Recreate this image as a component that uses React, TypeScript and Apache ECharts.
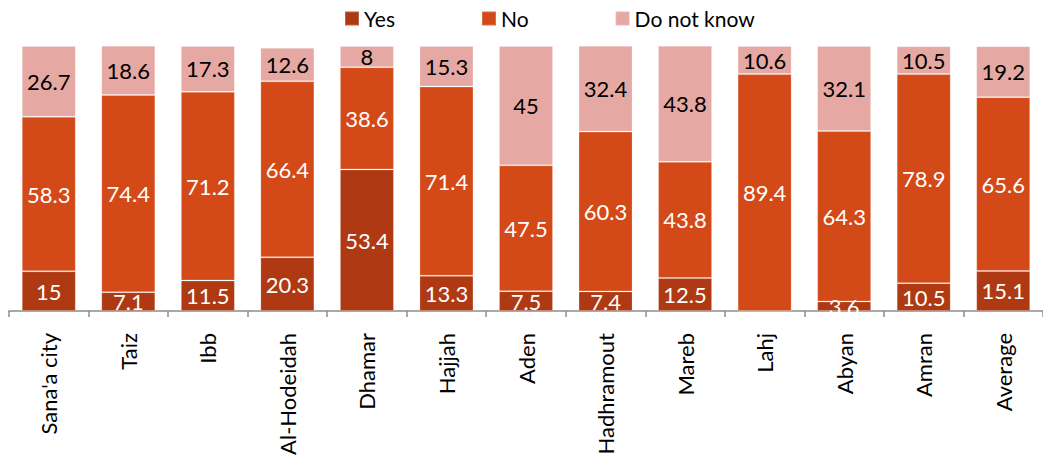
import React, { useEffect, useRef } from "react";
import * as echarts from "echarts";

const categories = [
  "Sana'a city", "Taiz", "Ibb", "Al-Hodeidah", "Dhamar", "Hajjah", "Aden",
  "Hadhramout", "Mareb", "Lahj", "Abyan", "Amran", "Average",
];
const yesValues = [15, 7.1, 11.5, 20.3, 53.4, 13.3, 7.5, 7.4, 12.5, 0, 3.6, 10.5, 15.1];
const noValues = [58.3, 74.4, 71.2, 66.4, 38.6, 71.4, 47.5, 60.3, 43.8, 89.4, 64.3, 78.9, 65.6];
const dkValues = [26.7, 18.6, 17.3, 12.6, 8, 15.3, 45, 32.4, 43.8, 10.6, 32.1, 10.5, 19.2];

const FONT = "Lato";

export default function App() {
  const ref = useRef<HTMLDivElement>(null);
  useEffect(() => {
    if (!ref.current) return;
    const chart = echarts.init(ref.current, null, { renderer: "svg" });
    const mk = (name: string, data: number[], color: string, labelColor: string) => ({
      name,
      type: "bar",
      stack: "total",
      data,
      barWidth: 54,
      itemStyle: { color, borderColor: "rgba(255,255,255,0.2)", borderWidth: 1 },
      label: {
        show: true,
        position: "inside",
        color: labelColor,
        fontFamily: FONT,
        fontSize: 22,
        formatter: (p: any) => (p.value === 0 ? "" : String(p.value)),
      },
    });
    chart.setOption({
      animation: false,
      legend: {
        top: 3,
        left: 339,
        itemWidth: 14,
        itemHeight: 14,
        itemGap: 86,
        icon: "rect",
        textStyle: { fontFamily: FONT, fontSize: 21, color: "#000" },
        data: ["Yes", "No", "Do not know"],
      },
      grid: { left: 9, top: 46, width: 1040, height: 265, containLabel: false },
      xAxis: {
        type: "category",
        data: categories,
        axisLine: { lineStyle: { color: "#8c8c8c", width: 1.5 } },
        axisTick: { show: true, length: 6, lineStyle: { color: "#8c8c8c", width: 1.5 } },
        axisLabel: {
          rotate: 90,
          margin: 22,
          color: "#000",
          fontFamily: FONT,
          fontSize: 22,
          interval: 0,
        },
      },
      yAxis: {
        type: "value",
        min: 0,
        max: 100,
        show: false,
        splitLine: { show: false },
      },
      series: [
        mk("Yes", yesValues, "#AE3912", "#ffffff"),
        mk("No", noValues, "#D34A18", "#ffffff"),
        mk("Do not know", dkValues, "#E6A8A3", "#000000"),
      ],
    });
    return () => chart.dispose();
  }, []);
  return (
    <div
      ref={ref}
      style={{ position: "absolute", left: 0, top: 0, width: 1043, height: 458 }}
    />
  );
}
